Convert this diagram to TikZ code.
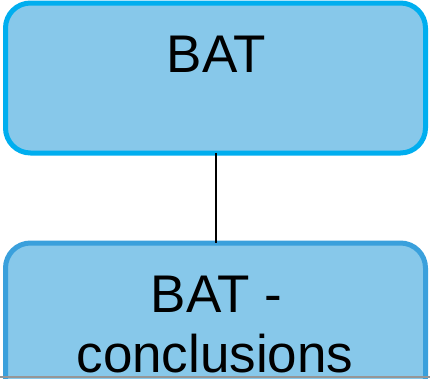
\documentclass[tikz,border=0pt]{standalone}
\usepackage{fontspec}
\setmainfont{Liberation Sans}
\definecolor{boxfill}{RGB}{135,200,234}
\definecolor{topedge}{RGB}{0,174,239}
\definecolor{lowedge}{RGB}{58,160,220}
\definecolor{rulegray}{RGB}{150,150,150}
\begin{document}
\begin{tikzpicture}[x=1pt,y=-1pt,
  panel/.style={draw, fill=boxfill, line width=5pt, rounded corners=25pt,
    minimum width=420pt, inner sep=0pt, outer sep=0pt},
  caption/.style={anchor=base, inner sep=0pt, font=\fontsize{53}{60}\selectfont},
  link/.style={draw=black, line width=1.6pt}]
\useasboundingbox (0,0) rectangle (430,378);
\clip (0,0) rectangle (430,378);
% upper panel
\node[panel, draw=topedge, minimum height=150pt] (bat) at (215.5,78) {};
% lower panel, running past the bottom edge
\node[panel, draw=lowedge, minimum height=160pt] (concl) at (215.5,323) {};
\draw[link] (bat.south -| 216,0) -- (concl.north -| 216,0);
% captions
\node[caption] (batlabel) at (216.5,72) {BAT};
\node[caption] (concllabel1) at (216.5,312) {BAT -};
\node[caption] (concllabel2) at (215,372) {conclusions};
% bottom rule
\draw[rulegray, line width=2pt] (0,377) -- (430,377);
\end{tikzpicture}
\end{document}
